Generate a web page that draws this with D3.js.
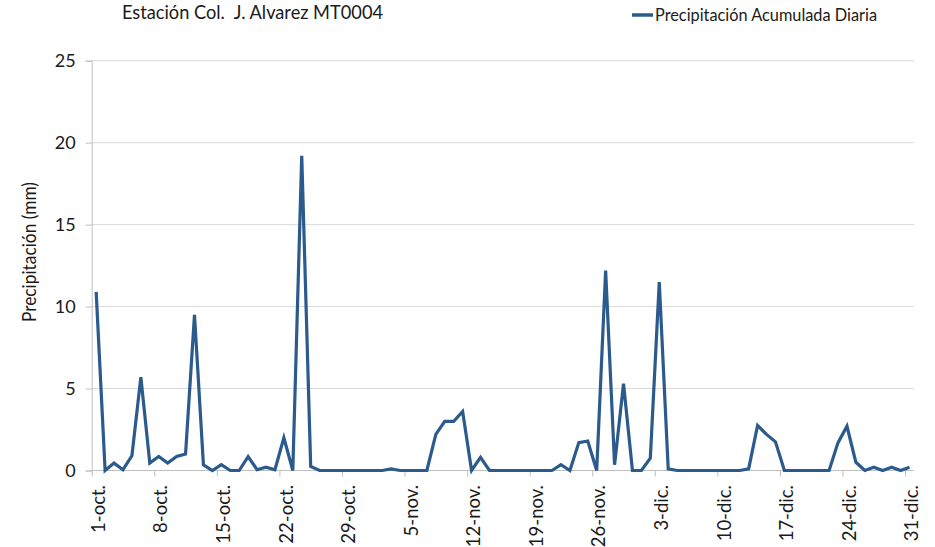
<!DOCTYPE html>
<html>
<head>
<meta charset="utf-8">
<script src="https://cdn.jsdelivr.net/npm/d3@7"></script>
<style>
  html, body { margin: 0; padding: 0; background: #fff; }
  svg { display: block; }
  text { font-family: Lato, "Open Sans", sans-serif; fill: #1a1a1a; }
</style>
</head>
<body>
<svg id="chart" width="935" height="547"></svg>
<script>
const titleText = "Estación Col.  J. Alvarez MT0004";
const seriesName = "Precipitación Acumulada Diaria";
const yAxisLabel = "Precipitación (mm)";

// daily precipitation, 1-oct to 31-dic (92 days)
const octValues = [10.9, 0, 0.45, 0.05, 0.9, 5.7, 0.45, 0.85, 0.45, 0.85,
                   1.0, 9.5, 0.35, 0, 0.35, 0, 0, 0.85, 0.05, 0.2,
                   0.05, 2.0, 0, 19.2, 0.25, 0, 0, 0, 0, 0, 0];
const novValues = [0, 0, 0.1, 0, 0, 0, 0, 2.2, 3.0, 3.0,
                   3.6, 0, 0.8, 0, 0, 0, 0, 0, 0, 0,
                   0, 0.35, 0, 1.7, 1.8, 0, 12.2, 0.35, 5.3, 0];
const dicValues = [0, 0.75, 11.5, 0.1, 0, 0, 0, 0, 0, 0,
                   0, 0, 0.1, 2.75, 2.2, 1.75, 0, 0, 0, 0,
                   0, 0, 1.7, 2.7, 0.5, 0, 0.2, 0, 0.2, 0, 0.2];
const values = octValues.concat(novValues, dicValues);

const tickLabels = ["1-oct.", "8-oct.", "15-oct.", "22-oct.", "29-oct.", "5-nov.", "12-nov.",
                    "19-nov.", "26-nov.", "3-dic.", "10-dic.", "17-dic.", "24-dic.", "31-dic."];
const yTicks = [0, 5, 10, 15, 20, 25];

const svg = d3.select("#chart");
const plotLeft = 91.7, plotRight = 914, plotTop = 60.7, plotBottom = 470.5;

const x = d3.scaleLinear().domain([0, values.length]).range([plotLeft, plotRight]);
const y = d3.scaleLinear().domain([0, 25]).range([plotBottom, plotTop]);

// gridlines
svg.append("g").selectAll("line").data(yTicks.filter(d => d > 0)).join("line")
  .attr("x1", plotLeft).attr("x2", plotRight)
  .attr("y1", d => y(d)).attr("y2", d => y(d))
  .attr("stroke", "#d9d9d9").attr("stroke-width", 1);

// y axis
const yAxis = d3.axisLeft(y).tickValues(yTicks).tickSize(6).tickPadding(10).tickFormat(d3.format("d"));
const gy = svg.append("g").attr("transform", `translate(${plotLeft},0)`).call(yAxis);
gy.select(".domain").attr("stroke", "#bfbfbf");
gy.selectAll(".tick line").attr("stroke", "#bfbfbf");
gy.selectAll(".tick text").style("font-size", "18px").style("font-family", "Lato, 'Open Sans', sans-serif").attr("fill", "#111");

// x axis
const tickDays = tickLabels.map((_, i) => i * 7);
const xAxis = d3.axisBottom(x).tickValues(tickDays).tickSize(6).tickFormat("");
const gx = svg.append("g").attr("transform", `translate(0,${plotBottom})`).call(xAxis);
gx.select(".domain").attr("stroke", "#bfbfbf").attr("d", `M${plotLeft},0H${plotRight}`);
gx.selectAll(".tick line").attr("stroke", "#bfbfbf");

svg.append("g").selectAll("text").data(tickLabels).join("text")
  .attr("transform", (d, i) => `translate(${x(tickDays[i]) + 6.5},485) rotate(-90)`)
  .attr("text-anchor", "end")
  .attr("dy", "0.36em")
  .style("font-size", "18.5px")
  .attr("fill", "#111")
  .text(d => d);

// line
const line = d3.line().x((d, i) => x(i + 0.5)).y(d => y(d));
svg.append("path").datum(values)
  .attr("d", line)
  .attr("fill", "none")
  .attr("stroke", "#2b5a8c")
  .attr("stroke-width", 3.2)
  .attr("stroke-linejoin", "miter");

// y label
svg.append("text")
  .attr("transform", "translate(36,252) rotate(-90)")
  .attr("text-anchor", "middle")
  .style("font-size", "18.5px")
  .attr("textLength", 140).attr("lengthAdjust", "spacingAndGlyphs")
  .text(yAxisLabel);

// title
svg.append("text")
  .attr("x", 122).attr("y", 19)
  .attr("xml:space", "preserve")
  .style("white-space", "pre")
  .style("font-size", "19px")
  .attr("textLength", 261).attr("lengthAdjust", "spacingAndGlyphs")
  .text(titleText);

// legend
svg.append("line")
  .attr("x1", 632).attr("x2", 653).attr("y1", 15).attr("y2", 15)
  .attr("stroke", "#2b5a8c").attr("stroke-width", 3.5);
svg.append("text")
  .attr("x", 655).attr("y", 20.5)
  .style("font-size", "18px")
  .attr("textLength", 222).attr("lengthAdjust", "spacingAndGlyphs")
  .text(seriesName);
</script>
</body>
</html>
